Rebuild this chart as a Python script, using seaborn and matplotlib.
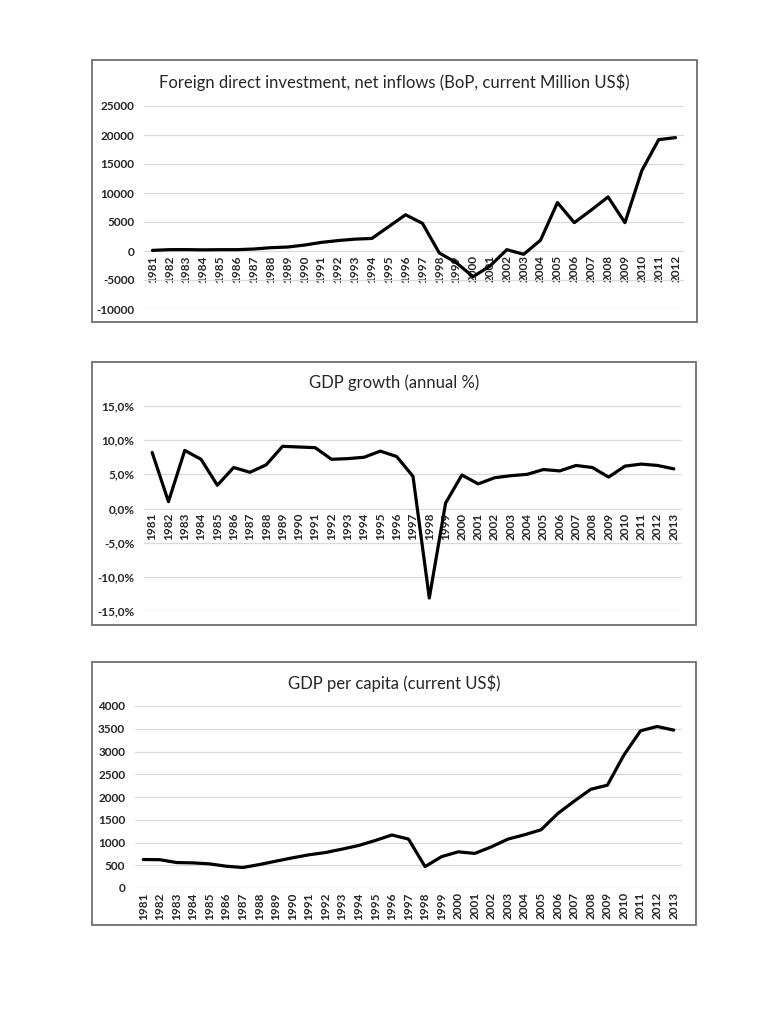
import matplotlib
matplotlib.use("Agg")
import matplotlib.pyplot as plt
import matplotlib.patches as patches
from matplotlib.ticker import FuncFormatter
import pandas as pd
import seaborn as sns

sns.set_style("white")
plt.rcParams['font.family'] = ['Lato', 'DejaVu Sans']

# data
fdi_years = list(range(1981, 2013))
fdi_values = [110, 230, 240, 200, 230, 230, 340, 570, 680, 1020, 1480, 1800,
              2045, 2160, 4200, 6250, 4770, -340, -2000, -4430, -2600, 230,
              -570, 1875, 8350, 4890, 7050, 9320, 4890, 13860, 19200, 19550]

growth_years = list(range(1981, 2014))
growth_values = [8.2, 1.0, 8.5, 7.2, 3.4, 6.0, 5.3, 6.4, 9.1, 9.0, 8.9, 7.2,
                 7.3, 7.5, 8.4, 7.6, 4.7, -13.1, 0.8, 4.9, 3.6, 4.5, 4.8, 5.0,
                 5.7, 5.5, 6.3, 6.0, 4.6, 6.2, 6.5, 6.3, 5.8]

pc_years = list(range(1981, 2014))
pc_values = [626, 622, 560, 552, 530, 479, 450, 515, 590, 663, 730, 780, 855,
             935, 1045, 1165, 1075, 470, 690, 795, 760, 905, 1075, 1170, 1280,
             1635, 1910, 2170, 2260, 2925, 3455, 3550, 3470]

W, H = 768, 1024
fig = plt.figure(figsize=(W / 100, H / 100), dpi=100)


def px_axes(left, top, right, bottom):
    return fig.add_axes([left / W, 1 - bottom / H, (right - left) / W, (bottom - top) / H])


def px_box(left, top, right, bottom):
    rect = patches.Rectangle((left / W, 1 - bottom / H), (right - left) / W, (bottom - top) / H,
                             transform=fig.transFigure, fill=False,
                             edgecolor='#6e6e6e', linewidth=1.3)
    fig.patches.append(rect)


def draw_panel(ax, years, values, title, ylim, yticks, fmt, zero_axis, box, title_y):
    df = pd.DataFrame({'pos': range(len(years)), 'value': values})
    sns.lineplot(data=df, x='pos', y='value', ax=ax, color='black', linewidth=2.3)
    for s in ax.spines.values():
        s.set_visible(False)
    if zero_axis:
        # category axis crosses at 0 like in Excel
        ax.spines['bottom'].set_position(('data', 0))
    ax.set_xlim(-0.5, len(years) - 0.5)
    ax.set_ylim(*ylim)
    ax.set_yticks(yticks)
    ax.yaxis.set_major_formatter(FuncFormatter(fmt))
    ax.set_xticks(range(len(years)))
    ax.set_xticklabels([str(y) for y in years])
    ax.grid(axis='y', color='#d9d9d9', linewidth=0.9)
    ax.set_axisbelow(True)
    ax.tick_params(axis='y', length=0, pad=7, labelsize=8.5)
    ax.tick_params(axis='x', length=0, pad=3, labelsize=8.5, labelrotation=90)
    for lab in ax.get_xticklabels() + ax.get_yticklabels():
        lab.set_fontweight('bold')
    ax.set_xlabel('')
    ax.set_ylabel('')
    px_box(*box)
    cx = (box[0] + box[2]) / 2
    fig.text(cx / W, 1 - title_y / H, title, ha='center', va='center', fontsize=12)


ax1 = px_axes(144, 106, 684, 309)
draw_panel(ax1, fdi_years, fdi_values,
           'Foreign direct investment, net inflows (BoP, current Million US$)',
           (-10000, 25000), range(-10000, 25001, 5000),
           lambda v, p: f'{v:.0f}', True, (92, 60, 697, 322), 82)

ax2 = px_axes(144, 406, 682, 611)
draw_panel(ax2, growth_years, growth_values, 'GDP growth (annual %)',
           (-15, 15), range(-15, 16, 5),
           lambda v, p: f'{v:.1f}%'.replace('.', ','), True, (92, 362, 696, 625), 383)

ax3 = px_axes(135, 706, 682, 888)
draw_panel(ax3, pc_years, pc_values, 'GDP per capita (current US$)',
           (0, 4000), range(0, 4001, 500),
           lambda v, p: f'{v:.0f}', False, (92, 662, 696, 925), 683)

fig.savefig('out.png', dpi=100)
